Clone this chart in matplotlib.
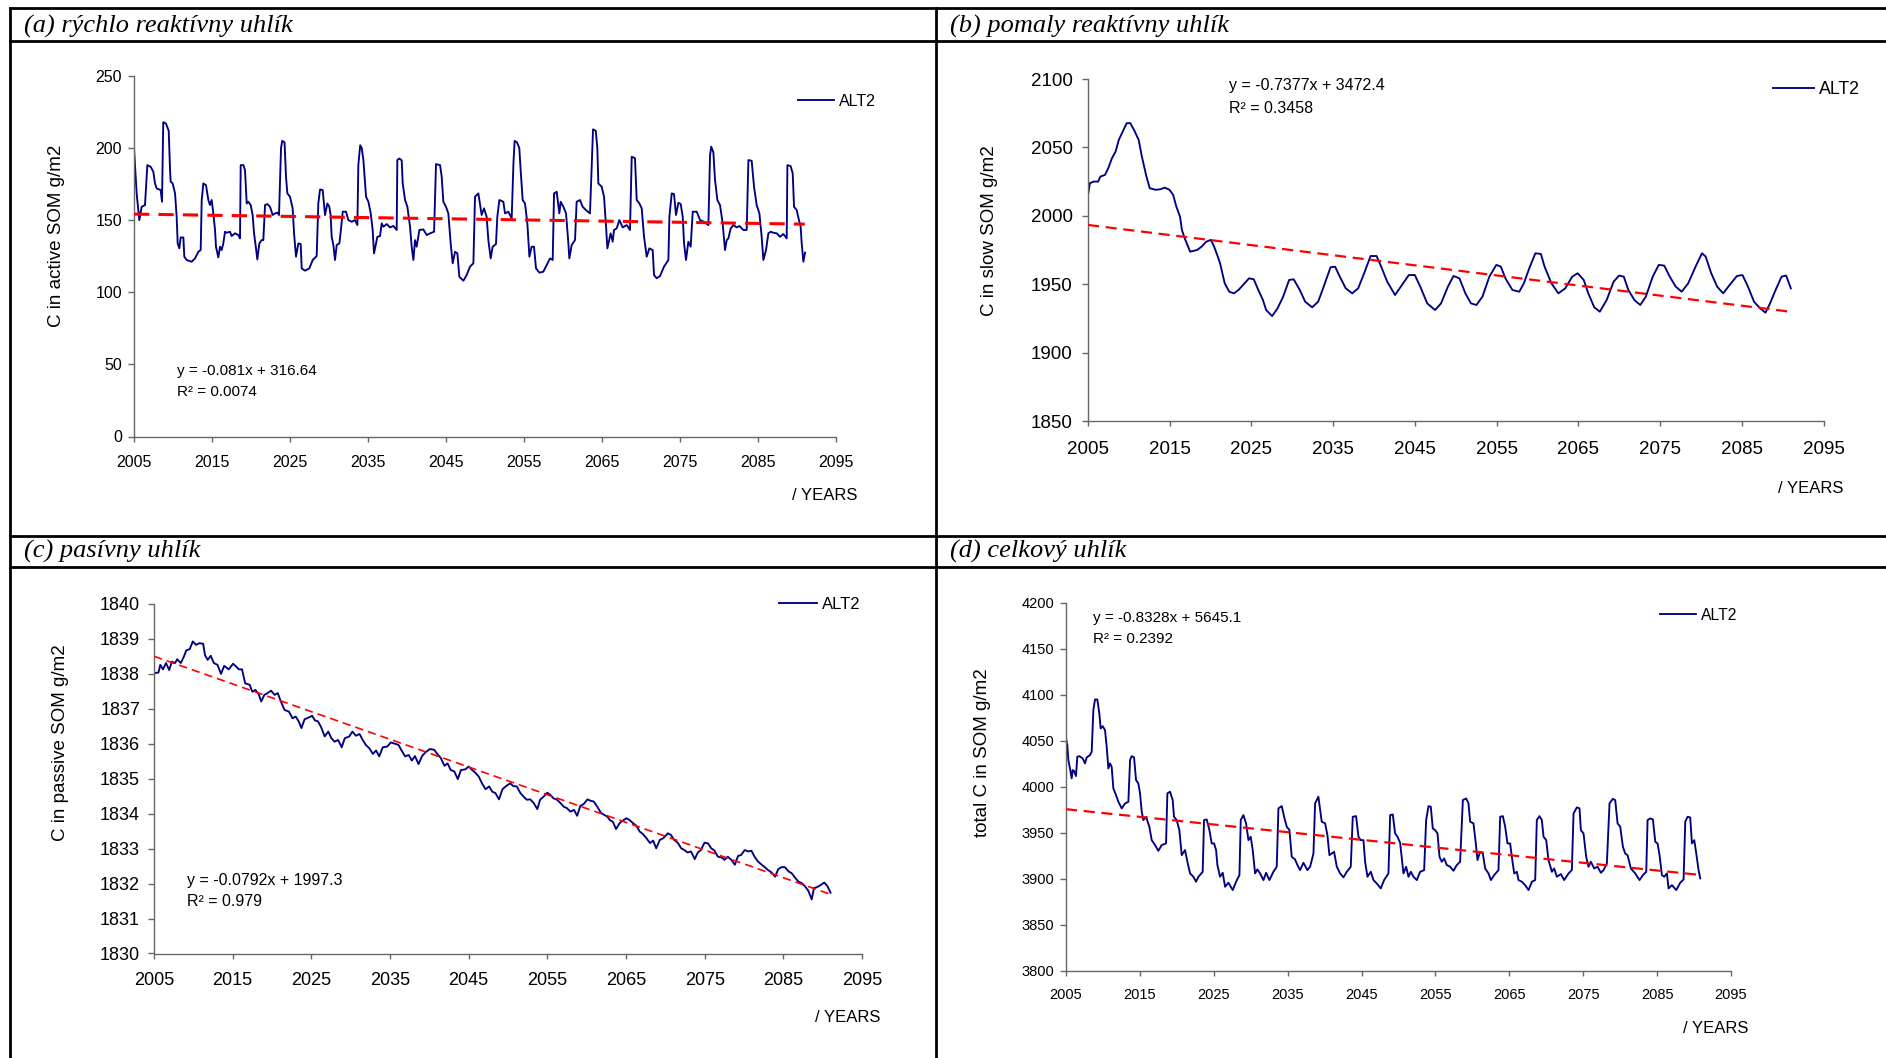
import matplotlib
matplotlib.use("Agg")
import matplotlib.pyplot as plt
from matplotlib.lines import Line2D

plt.rcParams['font.family'] = ['Liberation Sans', 'DejaVu Sans']

# ---- data (year, value) ----
active = [
    (2005.0, 200), (2005.34, 168.6), (2005.68, 150), (2005.98, 159.3), (2006.41, 160.5), (2006.71, 188.2),
    (2007.14, 187), (2007.48, 183.6), (2007.69, 175.5), (2007.91, 172), (2008.42, 170.9), (2008.59, 162.8),
    (2008.75, 218), (2009.1, 217), (2009.45, 212), (2009.62, 185), (2009.7, 176.7), (2009.96, 175.5),
    (2010.26, 168.6), (2010.47, 152.4), (2010.6, 133.9), (2010.81, 130.5), (2010.98, 138), (2011.33, 138),
    (2011.45, 124.7), (2011.75, 122.4), (2012.39, 121.2), (2012.82, 123.5), (2013.25, 128.1), (2013.55, 129.3),
    (2013.68, 164), (2013.89, 175.5), (2014.23, 174.3), (2014.53, 164), (2014.74, 160.5), (2014.96, 164),
    (2015.17, 154.7), (2015.39, 143.2), (2015.51, 131.6), (2015.81, 124.2), (2016.03, 131.6), (2016.24, 129.3),
    (2016.45, 133.9), (2016.67, 142), (2016.88, 141.3), (2017.31, 142), (2017.52, 139), (2017.95, 140.9),
    (2018.38, 139.7), (2018.59, 137.4), (2018.68, 188.2), (2019.02, 188.2), (2019.23, 184.7), (2019.45, 161.6),
    (2019.66, 162.8), (2019.96, 160.5), (2020.21, 153.6), (2020.39, 140.9), (2020.64, 130.5), (2020.81, 122.8),
    (2021.07, 133.9), (2021.37, 136.2), (2021.58, 136.2), (2021.8, 160.5), (2022.1, 161.2), (2022.44, 159.3),
    (2022.78, 153.6), (2023.08, 154.7), (2023.38, 155.2), (2023.59, 153.6), (2023.85, 200), (2024.0, 205),
    (2024.3, 204), (2024.49, 180), (2024.66, 168.6), (2025.0, 166.3), (2025.34, 158.2), (2025.52, 140.9),
    (2025.77, 124.7), (2026.07, 133.9), (2026.37, 133.5), (2026.5, 116.6), (2026.92, 115), (2027.48, 116.6),
    (2027.91, 122.4), (2028.42, 125.1), (2028.63, 161.6), (2028.85, 171.3), (2029.19, 170.9), (2029.49, 153.6),
    (2029.79, 161.6), (2030.04, 159.3), (2030.21, 153.6), (2030.34, 138.5), (2030.56, 132.8), (2030.77, 122.4),
    (2030.99, 132.8), (2031.33, 133.9), (2031.5, 142), (2031.76, 155.9), (2032.18, 155.9), (2032.48, 150.1),
    (2032.91, 148.9), (2033.34, 150.1), (2033.64, 146.6), (2033.76, 188.2), (2034.0, 202), (2034.2, 200),
    (2034.41, 191.7), (2034.75, 166.3), (2035.05, 162.8), (2035.35, 154.7), (2035.6, 143.2), (2035.77, 127),
    (2036.03, 133.9), (2036.2, 138.5), (2036.54, 139), (2036.76, 147.8), (2036.97, 145.5), (2037.4, 147.3),
    (2037.82, 145), (2038.25, 146), (2038.68, 143.2), (2038.76, 191.7), (2039.02, 192.8), (2039.32, 191.5),
    (2039.45, 175.5), (2039.75, 164), (2040.05, 159.3), (2040.39, 145.5), (2040.6, 131.6), (2040.82, 122.4),
    (2041.03, 136.2), (2041.24, 131.6), (2041.59, 143.2), (2042.1, 143.6), (2042.53, 139.7), (2042.95, 140.9),
    (2043.47, 142), (2043.72, 188.9), (2044.24, 188.2), (2044.45, 180.1), (2044.66, 162.8), (2045.0, 159.3),
    (2045.3, 154.7), (2045.6, 133.9), (2045.86, 120.1), (2046.16, 128.1), (2046.46, 127), (2046.71, 110.8),
    (2047.23, 108), (2047.65, 112), (2048.08, 117.8), (2048.51, 120.1), (2048.72, 166.3), (2049.15, 168.6),
    (2049.57, 153.6), (2049.87, 158.2), (2050.21, 152.4), (2050.43, 136.2), (2050.73, 123.5), (2050.98, 131.6),
    (2051.41, 133.5), (2051.58, 152.4), (2051.84, 164), (2052.35, 162.8), (2052.57, 154.7), (2052.99, 155.9),
    (2053.42, 151.2), (2053.65, 190), (2053.8, 205), (2054.1, 204), (2054.4, 200), (2054.57, 184.7),
    (2054.83, 164), (2055.13, 161.6), (2055.43, 147.8), (2055.69, 124.7), (2055.98, 131.6), (2056.28, 131.6),
    (2056.54, 116.6), (2056.97, 113.6), (2057.48, 114.3), (2057.91, 118.9), (2058.33, 123.5), (2058.68, 122.4),
    (2058.85, 168.6), (2059.19, 169.7), (2059.53, 154.7), (2059.7, 162.8), (2060.05, 159.3), (2060.39, 154.7),
    (2060.69, 133.9), (2060.81, 123.5), (2061.11, 132.8), (2061.54, 136.2), (2061.75, 162.8), (2062.18, 164),
    (2062.52, 159.3), (2062.95, 157), (2063.46, 154.7), (2063.7, 190), (2063.85, 213), (2064.2, 212),
    (2064.4, 200), (2064.53, 175.5), (2064.96, 173.2), (2065.26, 166.3), (2065.52, 145.5), (2065.69, 130.5),
    (2066.11, 140.9), (2066.37, 135.1), (2066.54, 143.2), (2066.88, 144.3), (2067.23, 150.1), (2067.65, 145),
    (2068.17, 146.6), (2068.59, 143.2), (2068.81, 194), (2069.23, 193), (2069.45, 164), (2069.79, 161.6),
    (2070.09, 158.2), (2070.39, 138.5), (2070.73, 124.7), (2071.07, 130.5), (2071.5, 129.3), (2071.67, 112),
    (2072.01, 109.7), (2072.44, 111.3), (2072.95, 117.8), (2073.51, 122.4), (2073.64, 152.4), (2073.94, 168.6),
    (2074.23, 168.1), (2074.49, 153.6), (2074.79, 162.1), (2075.09, 161.2), (2075.35, 152.4), (2075.52, 133.9),
    (2075.77, 122.4), (2076.07, 135.1), (2076.37, 131.6), (2076.63, 155.9), (2077.14, 155.9), (2077.57, 150.1),
    (2078.08, 148.9), (2078.64, 146.6), (2078.85, 195), (2079.0, 201), (2079.28, 197), (2079.49, 178),
    (2079.79, 164), (2080.13, 160.5), (2080.47, 147.8), (2080.77, 129.3), (2080.99, 136.2), (2081.2, 137.4),
    (2081.5, 144.3), (2081.84, 146.6), (2082.27, 145), (2082.61, 146), (2083.12, 143.2), (2083.55, 143.2),
    (2083.77, 191.7), (2084.19, 191.2), (2084.49, 173.2), (2084.83, 160.5), (2085.18, 154.7), (2085.47, 138.5),
    (2085.69, 122.4), (2086.03, 129.3), (2086.33, 140.9), (2086.63, 142), (2086.97, 141.3), (2087.4, 140.9),
    (2087.83, 138.5), (2088.25, 140.4), (2088.68, 137.4), (2088.77, 188.2), (2089.19, 187.5), (2089.45, 182.4),
    (2089.62, 159.3), (2089.96, 157), (2090.3, 148.9), (2090.47, 145.5), (2090.6, 133.9), (2090.82, 121.2),
    (2091.03, 127.5),
]

slow = [
    (2005.0, 2015.3), (2005.23, 2023.8), (2005.68, 2025), (2006.24, 2025), (2006.52, 2028.7), (2007.08, 2029.9),
    (2007.48, 2034.8), (2007.93, 2042.1), (2008.38, 2047), (2008.77, 2055.5), (2009.34, 2062.8), (2009.73, 2067.7),
    (2010.18, 2067.7), (2010.63, 2062.8), (2011.2, 2055.5), (2011.59, 2043.3), (2012.15, 2028.7), (2012.55, 2020.2),
    (2013.28, 2019), (2013.84, 2019.4), (2014.41, 2020.6), (2014.97, 2019), (2015.42, 2015.3), (2015.81, 2006.7),
    (2016.26, 1999.4), (2016.49, 1989.7), (2016.83, 1983.6), (2017.5, 1973.8), (2018.35, 1975), (2018.91, 1977.5),
    (2019.47, 1981.1), (2020.04, 1982.4), (2020.43, 1977.5), (2020.88, 1970.2), (2021.16, 1965.3), (2021.73, 1950.6),
    (2022.29, 1944.5), (2022.85, 1943.3), (2023.42, 1945.8), (2024.15, 1950.6), (2024.71, 1954.3), (2025.28, 1953.6),
    (2025.84, 1945.8), (2026.4, 1938.5), (2026.8, 1931.1), (2027.53, 1926.7), (2028.2, 1932.4), (2028.88, 1940.9),
    (2029.61, 1953.1), (2030.17, 1953.6), (2030.91, 1945.8), (2031.58, 1937.2), (2032.43, 1933.1), (2033.16, 1937.2),
    (2033.84, 1948.2), (2034.68, 1962.4), (2035.24, 1962.8), (2035.81, 1955.5), (2036.54, 1947), (2037.33, 1943.3),
    (2038.06, 1947), (2038.79, 1958), (2039.58, 1970.6), (2040.31, 1970.6), (2040.88, 1962.8), (2041.61, 1951.9),
    (2042.57, 1942.1), (2043.41, 1949.4), (2044.26, 1956.7), (2044.99, 1956.7), (2045.66, 1948.2), (2046.51, 1936),
    (2047.47, 1931.1), (2048.2, 1936), (2049.04, 1948.2), (2049.72, 1956), (2050.45, 1954.3), (2051.18, 1943.3),
    (2051.86, 1936), (2052.53, 1934.8), (2053.27, 1940.9), (2054.11, 1955.5), (2054.96, 1964.1), (2055.52, 1962.8),
    (2056.08, 1954.3), (2056.93, 1945.8), (2057.77, 1944.5), (2058.33, 1950.6), (2059.07, 1962.8), (2059.74, 1972.6),
    (2060.42, 1972.1), (2060.87, 1962.8), (2061.71, 1950.6), (2062.56, 1943.3), (2063.4, 1947), (2064.25, 1955.5),
    (2064.92, 1958), (2065.66, 1953.1), (2066.22, 1943.3), (2066.95, 1933.1), (2067.63, 1929.9), (2068.47, 1938.5),
    (2069.32, 1951.9), (2069.99, 1956.3), (2070.56, 1955.5), (2071.12, 1945.8), (2071.85, 1938.5), (2072.58, 1934.8),
    (2073.26, 1940.9), (2074.1, 1955.5), (2074.84, 1964.1), (2075.51, 1963.6), (2076.19, 1955.5), (2076.92, 1948.2),
    (2077.65, 1944.5), (2078.44, 1950.6), (2079.34, 1962.8), (2080.13, 1972.6), (2080.58, 1970.2), (2081.26, 1958),
    (2081.99, 1948.2), (2082.72, 1943.3), (2083.51, 1949.4), (2084.41, 1956), (2085.09, 1956.7), (2085.76, 1948.2),
    (2086.5, 1937.2), (2087.23, 1932.4), (2087.9, 1929.2), (2088.46, 1936), (2089.14, 1945.8), (2089.87, 1955.5),
    (2090.43, 1956.3), (2091.0, 1947),
]

passive = [
    (2005.0, 1838.02), (2005.57, 1838.04), (2005.8, 1838.26), (2006.14, 1838.13), (2006.53, 1838.31), (2006.93, 1838.11),
    (2007.27, 1838.35), (2007.67, 1838.31), (2007.95, 1838.42), (2008.41, 1838.31), (2008.81, 1838.5), (2009.09, 1838.67),
    (2009.54, 1838.71), (2009.94, 1838.93), (2010.34, 1838.83), (2010.79, 1838.88), (2011.25, 1838.86), (2011.48, 1838.54),
    (2011.82, 1838.4), (2012.21, 1838.52), (2012.61, 1838.31), (2013.07, 1838.26), (2013.52, 1838.0), (2013.92, 1838.23),
    (2014.49, 1838.13), (2015.05, 1838.29), (2015.45, 1838.21), (2015.79, 1838.13), (2016.19, 1838.13), (2016.59, 1837.73),
    (2017.16, 1837.69), (2017.5, 1837.49), (2017.89, 1837.54), (2018.29, 1837.43), (2018.63, 1837.21), (2019.03, 1837.4),
    (2019.43, 1837.45), (2019.88, 1837.52), (2020.34, 1837.4), (2020.73, 1837.45), (2021.13, 1837.21), (2021.59, 1836.97),
    (2022.15, 1836.92), (2022.61, 1836.73), (2023.01, 1836.78), (2023.4, 1836.64), (2023.74, 1836.45), (2024.14, 1836.7),
    (2024.71, 1836.76), (2025.11, 1836.8), (2025.45, 1836.67), (2025.85, 1836.64), (2026.24, 1836.48), (2026.7, 1836.21),
    (2027.15, 1836.35), (2027.55, 1836.16), (2027.95, 1836.06), (2028.4, 1836.11), (2028.86, 1835.9), (2029.25, 1836.16),
    (2029.82, 1836.21), (2030.22, 1836.35), (2030.67, 1836.23), (2031.13, 1836.28), (2031.53, 1836.11), (2031.92, 1835.97),
    (2032.38, 1835.87), (2032.83, 1835.71), (2033.23, 1835.81), (2033.63, 1835.64), (2034.08, 1835.9), (2034.65, 1835.92),
    (2035.1, 1836.04), (2035.67, 1836.0), (2036.07, 1835.97), (2036.47, 1835.81), (2036.92, 1835.64), (2037.38, 1835.68),
    (2037.77, 1835.52), (2038.17, 1835.65), (2038.63, 1835.42), (2039.08, 1835.65), (2039.48, 1835.75), (2040.05, 1835.85),
    (2040.61, 1835.83), (2041.01, 1835.71), (2041.47, 1835.59), (2041.92, 1835.37), (2042.32, 1835.44), (2042.72, 1835.25),
    (2043.17, 1835.21), (2043.62, 1834.99), (2044.02, 1835.25), (2044.59, 1835.27), (2044.99, 1835.35), (2045.44, 1835.25),
    (2045.9, 1835.16), (2046.29, 1835.06), (2046.69, 1834.87), (2047.15, 1834.7), (2047.6, 1834.78), (2048.0, 1834.63),
    (2048.4, 1834.59), (2048.85, 1834.41), (2049.3, 1834.7), (2049.7, 1834.78), (2050.27, 1834.87), (2050.67, 1834.79),
    (2051.12, 1834.78), (2051.58, 1834.59), (2051.97, 1834.49), (2052.37, 1834.4), (2052.83, 1834.41), (2053.28, 1834.3),
    (2053.73, 1834.13), (2054.08, 1834.4), (2054.53, 1834.49), (2054.98, 1834.6), (2055.38, 1834.54), (2055.78, 1834.44),
    (2056.23, 1834.4), (2056.69, 1834.3), (2057.09, 1834.2), (2057.48, 1834.16), (2057.94, 1834.06), (2058.39, 1834.11),
    (2058.79, 1833.94), (2059.19, 1834.22), (2059.64, 1834.28), (2060.1, 1834.41), (2060.49, 1834.37), (2060.89, 1834.35),
    (2061.35, 1834.2), (2061.8, 1834.03), (2062.2, 1833.97), (2062.6, 1833.92), (2062.94, 1833.82), (2063.33, 1833.77),
    (2063.73, 1833.56), (2064.19, 1833.73), (2064.64, 1833.81), (2065.04, 1833.87), (2065.44, 1833.82), (2065.89, 1833.73),
    (2066.34, 1833.65), (2066.74, 1833.49), (2067.14, 1833.42), (2067.59, 1833.3), (2068.05, 1833.16), (2068.45, 1833.23),
    (2068.84, 1833.01), (2069.3, 1833.25), (2069.75, 1833.3), (2070.32, 1833.44), (2070.72, 1833.39), (2071.12, 1833.25),
    (2071.57, 1833.17), (2072.02, 1833.01), (2072.42, 1832.96), (2072.82, 1832.89), (2073.27, 1832.92), (2073.73, 1832.7),
    (2074.13, 1832.89), (2074.52, 1832.96), (2074.98, 1833.17), (2075.43, 1833.15), (2075.83, 1833.01), (2076.23, 1832.95),
    (2076.68, 1832.77), (2077.14, 1832.75), (2077.53, 1832.68), (2077.93, 1832.77), (2078.39, 1832.68), (2078.84, 1832.54),
    (2079.24, 1832.79), (2079.64, 1832.82), (2080.09, 1832.96), (2080.54, 1832.92), (2080.94, 1832.94), (2081.34, 1832.77),
    (2081.79, 1832.63), (2082.25, 1832.54), (2082.65, 1832.47), (2083.04, 1832.39), (2083.5, 1832.32), (2083.95, 1832.2),
    (2084.35, 1832.41), (2084.75, 1832.47), (2085.2, 1832.47), (2085.66, 1832.35), (2086.05, 1832.3), (2086.45, 1832.18),
    (2086.91, 1832.06), (2087.36, 1832.01), (2087.76, 1831.92), (2088.16, 1831.8), (2088.61, 1831.55), (2088.89, 1831.87),
    (2089.29, 1831.9), (2089.75, 1831.96), (2090.2, 1832.03), (2090.6, 1831.93), (2091.0, 1831.74),
]

total = [
    (2005.0, 4052.3), (2005.18, 4045), (2005.32, 4028.7), (2005.54, 4019.6), (2005.77, 4008.8), (2005.9, 4017.8),
    (2006.08, 4017), (2006.35, 4011.3), (2006.53, 4032.3), (2006.81, 4033), (2007.26, 4030.5), (2007.57, 4025.1),
    (2007.8, 4031.6), (2008.25, 4034.1), (2008.48, 4037.8), (2008.7, 4083), (2008.93, 4094.6), (2009.24, 4094.6),
    (2009.51, 4079.4), (2009.69, 4063.1), (2009.96, 4065.6), (2010.28, 4061.3), (2010.51, 4043.2), (2010.73, 4019.6),
    (2010.96, 4025.1), (2011.18, 4021.4), (2011.41, 3997.9), (2011.77, 3990.6), (2012.09, 3983.4), (2012.54, 3976.2),
    (2012.99, 3981.6), (2013.44, 3983.4), (2013.67, 4028.7), (2013.89, 4033), (2014.21, 4031.6), (2014.48, 4007),
    (2014.79, 4003.3), (2015.02, 3992.5), (2015.25, 3972.5), (2015.47, 3963.5), (2015.83, 3967.1), (2016.28, 3956.2),
    (2016.6, 3941.7), (2017.05, 3936.3), (2017.5, 3930.1), (2017.95, 3936.3), (2018.54, 3938.1), (2018.72, 3992.5),
    (2019.08, 3994.3), (2019.44, 3985.2), (2019.62, 3967.1), (2019.98, 3963.5), (2020.34, 3952.6), (2020.66, 3925.4),
    (2021.11, 3930.9), (2021.43, 3918.2), (2021.79, 3905.5), (2022.24, 3901.9), (2022.6, 3896.5), (2022.92, 3901.9),
    (2023.5, 3907.3), (2023.68, 3963.5), (2024.04, 3964.2), (2024.41, 3952.6), (2024.72, 3938.1), (2025.04, 3938.1),
    (2025.31, 3930.9), (2025.49, 3914.6), (2025.85, 3901.9), (2026.21, 3906.2), (2026.53, 3891), (2026.98, 3895.4),
    (2027.57, 3887.4), (2028.02, 3896.5), (2028.47, 3903.7), (2028.65, 3963.5), (2029.01, 3968.9), (2029.37, 3959.9),
    (2029.69, 3941.7), (2030.0, 3945.4), (2030.27, 3930.9), (2030.59, 3905.5), (2030.9, 3909.9), (2031.27, 3905.5),
    (2031.72, 3898.3), (2032.08, 3906.2), (2032.53, 3898.3), (2033.07, 3907.3), (2033.52, 3912.8), (2033.75, 3976.2),
    (2034.2, 3978.7), (2034.52, 3967.1), (2034.88, 3956.2), (2035.24, 3952.6), (2035.55, 3923.6), (2036.0, 3920.7),
    (2036.32, 3914.6), (2036.68, 3909.1), (2037.13, 3917.1), (2037.67, 3909.1), (2038.04, 3912.8), (2038.49, 3927.2),
    (2038.71, 3981.6), (2039.16, 3988.9), (2039.61, 3961.7), (2040.07, 3959.9), (2040.38, 3947.2), (2040.65, 3925.4),
    (2040.97, 3927.2), (2041.28, 3929), (2041.65, 3912.8), (2042.1, 3905.5), (2042.55, 3901.2), (2043.0, 3907.3),
    (2043.54, 3912.8), (2043.81, 3967.1), (2044.26, 3967.8), (2044.58, 3945.4), (2044.89, 3941.7), (2045.26, 3941.7),
    (2045.48, 3918.2), (2045.8, 3901.9), (2046.25, 3907.3), (2046.61, 3898.3), (2047.06, 3894.6), (2047.6, 3889.2),
    (2048.05, 3898.3), (2048.64, 3905.5), (2048.87, 3968.9), (2049.23, 3969.6), (2049.54, 3949), (2049.86, 3945.4),
    (2050.22, 3938.8), (2050.45, 3921.8), (2050.67, 3905.5), (2051.03, 3912.8), (2051.35, 3901.9), (2051.67, 3907.3),
    (2052.03, 3901.9), (2052.48, 3898.3), (2052.93, 3907.3), (2053.47, 3909.1), (2053.74, 3963.5), (2054.06, 3978.7),
    (2054.37, 3978), (2054.64, 3954.4), (2054.96, 3952.6), (2055.28, 3949), (2055.55, 3923.6), (2055.86, 3918.2),
    (2056.18, 3921.8), (2056.54, 3914.6), (2056.99, 3912.8), (2057.44, 3908.4), (2057.89, 3914.6), (2058.34, 3918.2),
    (2058.71, 3985.2), (2059.16, 3987), (2059.47, 3981.6), (2059.7, 3961.7), (2060.15, 3959.9), (2060.51, 3934.5),
    (2060.69, 3920), (2061.05, 3929.1), (2061.41, 3927.2), (2061.73, 3910.9), (2062.18, 3905.5), (2062.5, 3898.3),
    (2062.95, 3903.7), (2063.53, 3909.1), (2063.76, 3967.1), (2064.12, 3967.8), (2064.44, 3956.2), (2064.75, 3938.1),
    (2065.11, 3938.1), (2065.34, 3923.6), (2065.66, 3905.5), (2066.02, 3907.3), (2066.24, 3898.3), (2066.69, 3896.5),
    (2067.14, 3892.8), (2067.6, 3887.4), (2068.05, 3896.5), (2068.5, 3898.3), (2068.72, 3963.5), (2069.08, 3967.8),
    (2069.4, 3963.5), (2069.63, 3945.4), (2069.99, 3941.7), (2070.3, 3920), (2070.76, 3907.3), (2071.07, 3911),
    (2071.43, 3901.9), (2071.97, 3904.8), (2072.42, 3898.3), (2073.01, 3905.5), (2073.46, 3909.1), (2073.69, 3970.7),
    (2074.14, 3977.3), (2074.5, 3976.2), (2074.68, 3952.6), (2075.04, 3949), (2075.4, 3923.6), (2075.72, 3912.8),
    (2076.03, 3918.2), (2076.49, 3910.9), (2076.94, 3912.8), (2077.39, 3906.2), (2077.75, 3909.1), (2078.2, 3916.4),
    (2078.56, 3981.6), (2079.01, 3986.6), (2079.33, 3985.2), (2079.65, 3959.9), (2080.01, 3956.2), (2080.37, 3934.5),
    (2080.68, 3927.2), (2081.0, 3925.4), (2081.45, 3910.9), (2082.04, 3905.5), (2082.62, 3898.3), (2083.08, 3903.7),
    (2083.53, 3907.3), (2083.71, 3963.5), (2084.07, 3965.3), (2084.43, 3964.2), (2084.75, 3939.9), (2085.06, 3938.1),
    (2085.33, 3925.4), (2085.65, 3903.7), (2085.96, 3901.9), (2086.33, 3905.5), (2086.55, 3889.2), (2087.0, 3892.8),
    (2087.59, 3887.4), (2088.13, 3895.4), (2088.58, 3899), (2088.81, 3961.7), (2089.12, 3967.1), (2089.48, 3966.4),
    (2089.71, 3938.1), (2090.03, 3941.7), (2090.3, 3927.2), (2090.61, 3909.1), (2090.84, 3900.1),
]

# linear trends as printed on the charts (x = year)
slopes = [-0.081, -0.7377, -0.0792, -0.8328]
intercepts = [316.64, 3472.4, 1997.3, 5645.1]
r2_values = [0.0074, 0.3458, 0.979, 0.2392]
trend_span = (2005, 2091)

titles = ["(a) rýchlo reaktívny uhlík", "(b) pomaly reaktívny uhlík",
          "(c) pasívny uhlík", "(d) celkový uhlík"]
ylabels = ["C in active SOM g/m2", "C in slow SOM g/m2",
           "C in passive SOM g/m2", "total C in SOM g/m2"]
yticks = [list(range(0, 251, 50)), list(range(1850, 2101, 50)),
          list(range(1830, 1841, 1)), list(range(3800, 4201, 50))]
xticks = list(range(2005, 2096, 10))
series = [active, slow, passive, total]

# ---- layout (pixels of the 1886x1058 output) ----
W, H = 1886, 1058
# axes boxes: left, right, top, bottom
boxes = [(134, 836, 76, 436.5), (1088, 1823.5, 79, 421), (154, 862, 604, 953.5), (1066, 1731, 602.5, 970.5)]
tick_fs = [11.5, 13.5, 13, 10.5]
xpad = [9.5, 11, 10, 9]
ypad = [4.5, 7, 6, 4.5]
leg_fs = [11.5, 12.8, 12, 11.3]
leg_pos = [(1.057, 0.930), (1.050, 0.970), (0.998, 0.998), (1.009, 0.966)]
eq_pos = [(0.061, 0.182, 0.123), (0.192, 0.980, 0.915), (0.047, 0.209, 0.149), (0.040, 0.957, 0.902)]
eq_fs = [11, 11.5, 11.5, 11]
years_pos = [(1.03, -0.165), (1.0265, -0.198), (1.026, -0.184), (1.0256, -0.157)]
ylab_pos = [(-0.098, 0.556), (-0.123, 0.557), (-0.120, 0.603), (-0.113, 0.593)]
trend_lw = [2.2, 1.6, 1.2, 1.6]
title_pos = [(24, 26), (950, 26), (24, 551), (950, 551)]

fig = plt.figure(figsize=(W / 100, H / 100), dpi=100)

for i in range(4):
    l, r, t, b = boxes[i]
    ax = fig.add_axes([l / W, 1 - b / H, (r - l) / W, (b - t) / H])

    xs = [p[0] for p in series[i]]
    ys = [p[1] for p in series[i]]
    ax.plot(xs, ys, color="#000080", linewidth=1.35, label="ALT2", zorder=2)

    # trend line from the printed equation
    tx = list(trend_span)
    ty = [slopes[i] * x + intercepts[i] for x in tx]
    ax.plot(tx, ty, color="#FF0000", linewidth=trend_lw[i], linestyle=(0, (5, 3)), zorder=3)

    ax.set_xlim(2005, 2095)
    ax.set_ylim(yticks[i][0], yticks[i][-1])
    ax.set_xticks(xticks)
    ax.set_yticks(yticks[i])
    for side in ["top", "right"]:
        ax.spines[side].set_visible(False)
    for side in ["left", "bottom"]:
        ax.spines[side].set_color("#666666")
        ax.spines[side].set_linewidth(1.0)
    ax.tick_params(axis="x", direction="out", length=3.5, width=1.0, color="#666666",
                   labelsize=tick_fs[i], pad=xpad[i])
    ax.tick_params(axis="y", direction="out", length=4, width=1.0, color="#666666",
                   labelsize=tick_fs[i], pad=ypad[i])

    ax.set_ylabel(ylabels[i], fontsize=13.5)
    ax.yaxis.set_label_coords(*ylab_pos[i])

    ax.legend(loc="center right", bbox_to_anchor=leg_pos[i], frameon=False,
              fontsize=leg_fs[i], handlelength=2.3, handletextpad=0.3,
              borderpad=0, borderaxespad=0)
    ax.text(eq_pos[i][0], eq_pos[i][1], f"y = {slopes[i]}x + {intercepts[i]}",
            transform=ax.transAxes, fontsize=eq_fs[i], va="center", ha="left")
    ax.text(eq_pos[i][0], eq_pos[i][2], f"R² = {r2_values[i]}",
            transform=ax.transAxes, fontsize=eq_fs[i], va="center", ha="left")
    ax.text(years_pos[i][0], years_pos[i][1], "/ YEARS", transform=ax.transAxes,
            fontsize=12, ha="right", va="center")

    fig.text(title_pos[i][0] / W, 1 - title_pos[i][1] / H, titles[i],
             fontsize=19, family="Liberation Serif", style="italic", va="center", ha="left")

# table rules
rule_lw = 2.0
for y in [8, 40.5, 535.5, 566.5]:
    fig.add_artist(Line2D([10 / W, 1], [1 - y / H, 1 - y / H], color="black", linewidth=rule_lw))
for x in [10, 935.5]:
    fig.add_artist(Line2D([x / W, x / W], [1 - 8 / H, 0], color="black", linewidth=rule_lw))

fig.savefig("out.png", dpi=100)
